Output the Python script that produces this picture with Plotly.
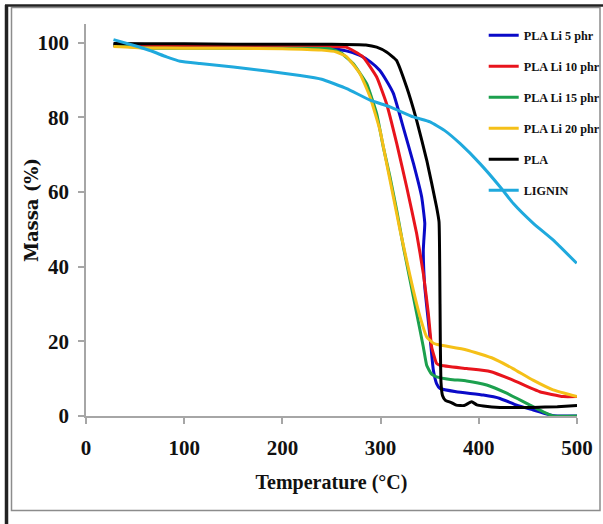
import plotly.graph_objects as go

# ---- data ----
li5_T = [28, 60, 100, 150, 200, 248, 265, 279, 290, 299, 306, 313, 323, 333.5, 341.8, 345, 344, 343.5, 345, 350.3, 353.7, 357, 360.5, 377, 404.6, 421.6, 438.6, 455.5, 472.5, 480, 500]
li5_M = [99.5, 99.5, 99.4, 99.4, 99.3, 98.5, 97.8, 96.6, 94.8, 92.6, 89.8, 86.4, 77.4, 67.6, 58.7, 51.6, 47, 44.4, 34.6, 21.2, 12.3, 8.7, 7.4, 6.5, 5.6, 4.7, 2.9, 1.6, 0.3, 0, 0]

li10_T = [28, 60, 100, 150, 200, 250, 265, 282, 296, 306, 316.4, 326.5, 336.7, 343.5, 348.6, 352, 357, 360.5, 387.6, 411.4, 434.8, 462, 486, 500]
li10_M = [99.2, 99.2, 99.1, 99.1, 99.0, 99.0, 98.8, 96.2, 90.8, 83.7, 73, 61.4, 48.9, 38.2, 27.5, 18.5, 14.1, 13.6, 12.7, 11.9, 9.6, 6.5, 5.2, 5.2]

li15_T = [28, 60, 100, 150, 200, 248.5, 260, 272, 285.8, 296, 302.7, 309.6, 316.4, 323.2, 330, 336.7, 343.5, 347, 352, 357, 371, 387.6, 408, 428.4, 448.7, 469, 476, 500]
li15_M = [99.3, 98.6, 98.5, 98.5, 98.5, 98.4, 97.2, 94.4, 89, 81, 72.1, 64, 55.1, 45.3, 36.4, 27.5, 18.5, 13.5, 11.2, 10.5, 9.8, 9.4, 8.3, 6.1, 3.4, 0.7, 0, 0]

li20_T = [28, 60, 100, 150, 200, 240, 255, 265.5, 279, 289.2, 299.4, 306.2, 313, 319.8, 326.5, 333.3, 340.1, 346.9, 353.7, 360.5, 387.6, 414.8, 434.8, 455.2, 475.6, 500]
li20_M = [99.0, 98.6, 98.5, 98.5, 98.4, 98.0, 97.5, 96.2, 91.7, 85.5, 76.5, 67.6, 58.7, 49.8, 41.7, 33.7, 26.6, 21.2, 19.5, 19.0, 17.7, 15.4, 12.7, 9.6, 7.0, 5.2]

pla_T = [28, 60, 100, 150, 200, 250, 285, 296, 306, 316, 326.5, 336.7, 347, 357, 359.5, 360.2, 360.8, 361.5, 363, 366, 372, 377, 385, 392.7, 398, 404.6, 421.6, 455, 480, 500]
pla_M = [99.8, 99.7, 99.7, 99.6, 99.6, 99.6, 99.4, 98.8, 97.5, 95.3, 88.1, 79.2, 68.5, 56, 52, 40, 20, 9, 5.5, 4.2, 3.6, 2.9, 2.8, 3.8, 3.0, 2.7, 2.3, 2.3, 2.5, 2.8]

lig_T = [28, 48, 65, 82, 96, 116, 150, 184, 218, 240, 265.5, 289.2, 309.6, 333.3, 350.3, 365, 380.8, 401.2, 421.6, 435.2, 455.5, 475.9, 499.7]
lig_M = [100.8, 99.3, 97.9, 96.2, 95, 94.4, 93.5, 92.4, 91.2, 90.2, 87.7, 84.6, 82.8, 80.1, 78.8, 76.5, 73, 67.6, 61.4, 56.9, 51.6, 47.1, 40.9]

names = ["PLA Li 5 phr", "PLA Li 10 phr", "PLA Li 15 phr", "PLA Li 20 phr", "PLA", "LIGNIN"]
series_T = [li5_T, li10_T, li15_T, li20_T, pla_T, lig_T]
series_M = [li5_M, li10_M, li15_M, li20_M, pla_M, lig_M]
colors = ["#0a0ac8", "#e8141c", "#1ca04e", "#f5c018", "#000000", "#1fa9dd"]

x_ticks = [0, 100, 200, 300, 400, 500]
y_ticks = [0, 20, 40, 60, 80, 100]

W, H = 603, 524
ML, MR, MT, MB = 86, 26, 24, 108

fig = go.Figure()
for i, (n, t, m, c) in enumerate(zip(names, series_T, series_M, colors)):
    fig.add_trace(go.Scatter(x=t, y=m, mode="lines", name=n, legendgroup=str(i),
                             line=dict(color=c, width=3, shape="spline", smoothing=0.4)))

serif = "Liberation Serif"
axis_col = "#a6a6a6"
fig.update_layout(
    width=W, height=H,
    margin=dict(l=ML, r=MR, t=MT, b=MB, autoexpand=False),
    paper_bgcolor="white", plot_bgcolor="white",
    font=dict(family=serif, color="#111111"),
    showlegend=True,
    legend=dict(x=0.81, y=1.008, xanchor="left", yanchor="top",
                bgcolor="rgba(0,0,0,0)", tracegroupgap=12,
                font=dict(family=serif, size=12.2, weight="bold", color="#111111")),
    xaxis=dict(range=[0, 500], tickvals=x_ticks, showgrid=False, zeroline=False,
               automargin=False,
               showline=True, linecolor=axis_col, linewidth=1.5,
               ticks="outside", ticklen=6, tickcolor=axis_col, tickwidth=1.5,
               ticklabelstandoff=6,
               tickfont=dict(family=serif, size=21, weight="bold"),
               title=dict(text="Temperature (°C)", standoff=16,
                          font=dict(family=serif, size=20, weight="bold"))),
    yaxis=dict(range=[0, 105], tickvals=y_ticks, showgrid=False, zeroline=False,
               automargin=False,
               showline=True, linecolor=axis_col, linewidth=1.5,
               ticks="outside", ticklen=6, tickcolor=axis_col, tickwidth=1.5,
               ticklabelstandoff=5,
               tickfont=dict(family=serif, size=21, weight="bold")),
)

# frame lines and y title (pixel positions converted to paper coordinates)
pw, ph = W - ML - MR, H - MT - MB
def px(x):
    return (x - ML) / pw
def py(y):
    return (H - MB - y) / ph

fig.add_annotation(text="Massa (%)", xref="paper", yref="paper", x=px(31), y=py(210),
                   xanchor="center", yanchor="middle", textangle=-90, showarrow=False,
                   font=dict(family="DejaVu Serif", size=18, weight="bold", color="#111111"))

fig.add_shape(type="rect", xref="paper", yref="paper", x0=px(11.5), x1=px(600), y0=py(510.5), y1=py(7.5),
              line=dict(color="#8c8c8c", width=1.5), fillcolor="rgba(0,0,0,0)", layer="below")
fig.add_shape(type="line", xref="paper", yref="paper", x0=px(6.5), x1=px(6.5), y0=py(524), y1=py(5),
              line=dict(color="#222222", width=3.5))
fig.add_shape(type="line", xref="paper", yref="paper", x0=px(5), x1=px(603), y0=py(5.5), y1=py(5.5),
              line=dict(color="#222222", width=2.5))

fig.write_html("out.html", config={"displayModeBar": False},
               post_script="document.body.style.margin='0px';")
